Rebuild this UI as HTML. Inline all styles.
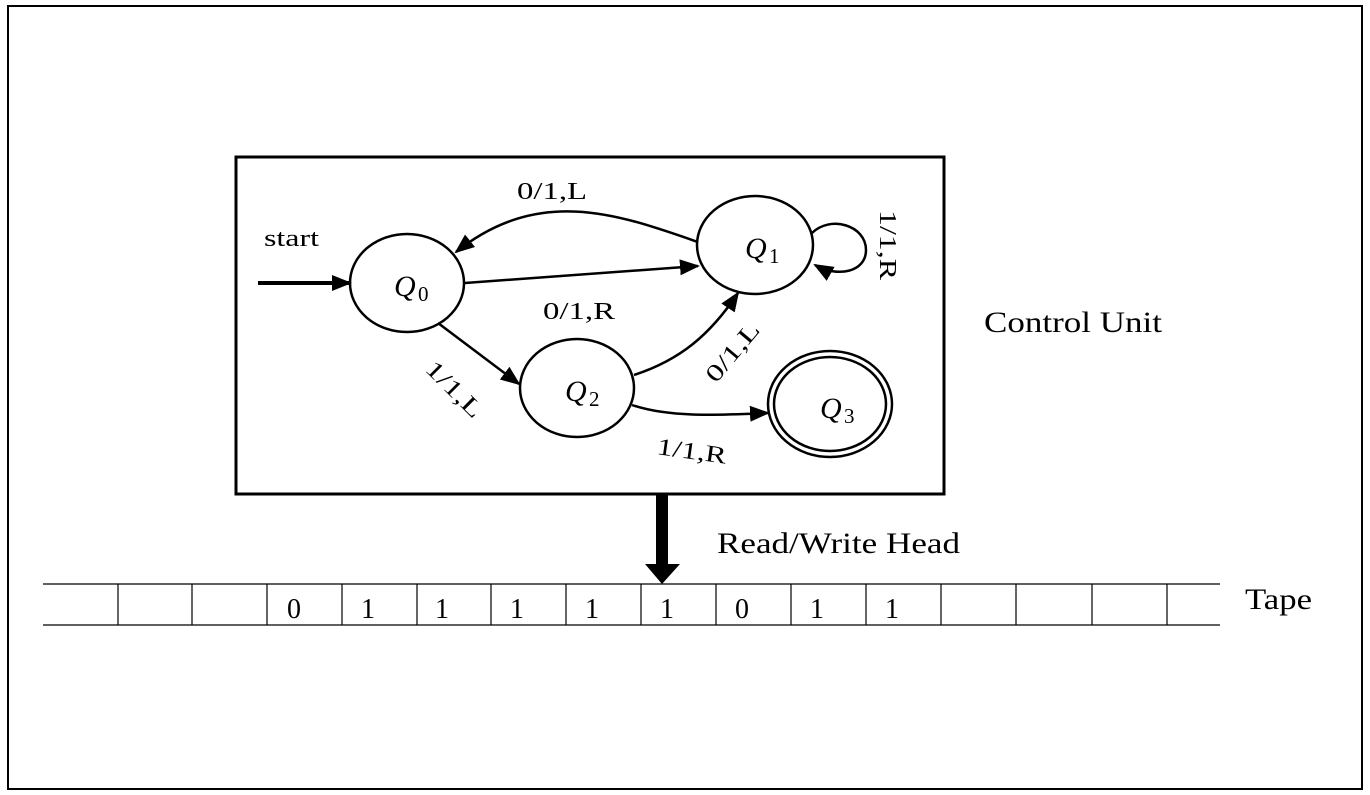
<!DOCTYPE html>
<html><head><meta charset="utf-8"><style>
html,body{margin:0;padding:0;background:#fff}
svg{display:block}
text{font-family:"Liberation Serif",serif;fill:#000}
.q{font-style:italic;font-size:30px}
.l{font-size:24px}
</style></head><body>
<svg width="1370" height="795" viewBox="0 0 1370 795" xmlns="http://www.w3.org/2000/svg">
<defs>
<marker id="b" markerWidth="20" markerHeight="20" refX="18" refY="10" orient="auto" markerUnits="userSpaceOnUse" viewBox="0 0 20 20">
<path d="M0,2 L20,10 L0,18 z" fill="#000"/></marker>
</defs>
<rect x="8" y="6" width="1354" height="783" fill="none" stroke="#000" stroke-width="2"/>
<rect x="236" y="157" width="708" height="337" fill="none" stroke="#000" stroke-width="3"/>
<g fill="none" stroke="#000" stroke-width="2.5">
<ellipse cx="407" cy="283" rx="57" ry="49"/>
<ellipse cx="755" cy="245" rx="58" ry="49"/>
<ellipse cx="577" cy="388" rx="57" ry="49"/>
<ellipse cx="830" cy="404" rx="62" ry="53"/>
<ellipse cx="830" cy="404" rx="56" ry="47"/>
</g>
<g fill="none" stroke="#000" stroke-width="2.5" marker-end="url(#b)">
<line x1="258" y1="283" x2="350" y2="283" stroke-width="4"/>
<line x1="465" y1="283" x2="698" y2="266"/>
<path d="M698,242 C620,215 540,185 456,252"/>
<line x1="438" y1="323" x2="519" y2="384"/>
<path d="M634,375 C680,360 710,335 738,293"/>
<path d="M632,405 C670,418 720,415 768,413"/>
<path d="M812,233 C830,215 866,225 866,250 C866,272 838,278 815,265"/>
</g>
<text class="q" x="394" y="296">Q</text><text x="418" y="301" font-size="21">0</text>
<text class="q" x="745" y="258">Q</text><text x="769" y="263" font-size="21">1</text>
<text class="q" x="565" y="401">Q</text><text x="589" y="406" font-size="21">2</text>
<text class="q" x="820" y="418">Q</text><text x="844" y="423" font-size="21">3</text>
<text class="l" x="264" y="246" textLength="55" lengthAdjust="spacingAndGlyphs">start</text>
<text class="l" x="517" y="199" textLength="70" lengthAdjust="spacingAndGlyphs">0/1,L</text>
<text class="l" x="543" y="319" textLength="72" lengthAdjust="spacingAndGlyphs">0/1,R</text>
<text class="l" transform="translate(880,210) rotate(90)" textLength="70" lengthAdjust="spacingAndGlyphs">1/1,R</text>
<text class="l" transform="translate(424,370) rotate(45)" textLength="70" lengthAdjust="spacingAndGlyphs">1/1,L</text>
<text class="l" transform="translate(716,384) rotate(-50)" textLength="70" lengthAdjust="spacingAndGlyphs">0/1,L</text>
<text class="l" transform="translate(656,454) rotate(8)" textLength="70" lengthAdjust="spacingAndGlyphs">1/1,R</text>
<text x="984" y="332" font-size="30" textLength="178" lengthAdjust="spacingAndGlyphs">Control Unit</text>
<rect x="656" y="494" width="12" height="72" fill="#000"/>
<path d="M645,564 L680,564 L662,584 z" fill="#000"/>
<text x="717" y="553" font-size="30" textLength="243" lengthAdjust="spacingAndGlyphs">Read/Write Head</text>
<g stroke="#000" stroke-width="1.2">
<line x1="43" y1="584" x2="1220" y2="584"/>
<line x1="43" y1="625" x2="1220" y2="625"/>
<line x1="118" y1="584" x2="118" y2="625"/><line x1="192" y1="584" x2="192" y2="625"/>
<line x1="267" y1="584" x2="267" y2="625"/><line x1="342" y1="584" x2="342" y2="625"/>
<line x1="417" y1="584" x2="417" y2="625"/><line x1="491" y1="584" x2="491" y2="625"/>
<line x1="566" y1="584" x2="566" y2="625"/><line x1="641" y1="584" x2="641" y2="625"/>
<line x1="716" y1="584" x2="716" y2="625"/><line x1="791" y1="584" x2="791" y2="625"/>
<line x1="866" y1="584" x2="866" y2="625"/><line x1="941" y1="584" x2="941" y2="625"/>
<line x1="1016" y1="584" x2="1016" y2="625"/><line x1="1092" y1="584" x2="1092" y2="625"/>
<line x1="1167" y1="584" x2="1167" y2="625"/>
</g>
<g font-size="28" text-anchor="middle">
<text x="294" y="618">0</text><text x="368" y="618">1</text><text x="442" y="618">1</text>
<text x="517" y="618">1</text><text x="592" y="618">1</text><text x="667" y="618">1</text>
<text x="742" y="618">0</text><text x="817" y="618">1</text><text x="892" y="618">1</text>
</g>
<text x="1245" y="609" font-size="30" textLength="67" lengthAdjust="spacingAndGlyphs">Tape</text>
</svg>
</body></html>
